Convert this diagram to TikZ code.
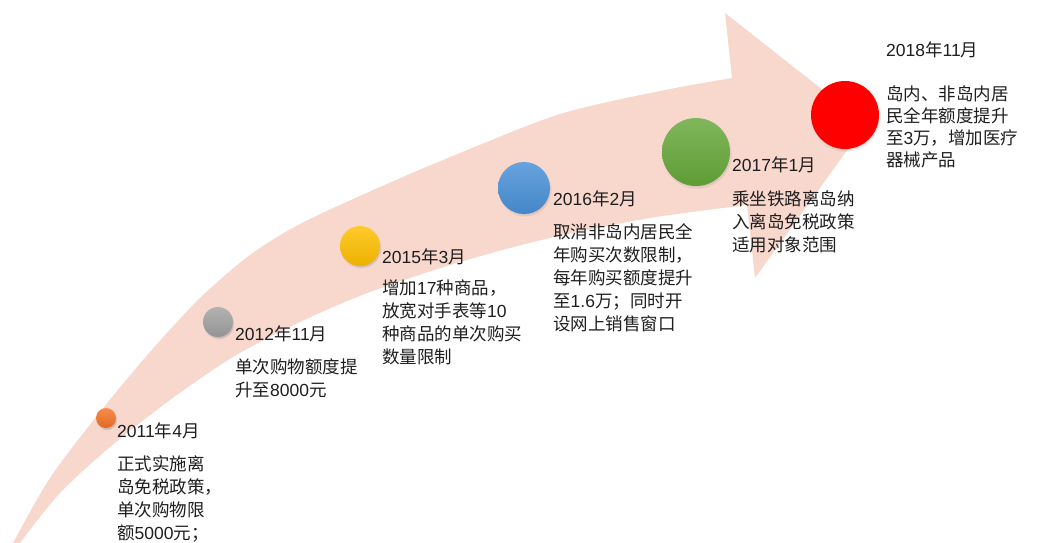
\documentclass[tikz,border=0pt]{standalone}
\usepackage{fontspec}
\setmainfont{Noto Sans CJK SC}
\newfontfamily\lat{Liberation Sans}
\usetikzlibrary{shadows}
\definecolor{arrowpink}{RGB}{248,215,205}
\definecolor{txt}{RGB}{30,30,30}
\tikzset{
  ball/.style={circle, inner sep=0pt, draw=none,
    circular drop shadow={shadow xshift=0.8pt, shadow yshift=-1.8pt, shadow scale=1.04, opacity=0.35}},
  title/.style={anchor=base west, inner sep=0pt, text=txt, font=\fontsize{17.5}{23}\selectfont},
  desc/.style={title, align=left},
}
\begin{document}
\begin{tikzpicture}[x=1pt,y=-1pt]
\useasboundingbox (0,0) rectangle (1037,543);
\clip (0,0) rectangle (1037,543);
% curved arrow
\fill[arrowpink] plot[smooth] coordinates {(6,557) (13,543) (50,478) (100,412) (150,352) (200,298) (250,255) (300,224) (380,187) (460,153) (560,114) (660,91) (732,78)}
  -- (725,13) -- (866,124) -- (755,278)
  -- plot[smooth] coordinates {(747,205) (650,218) (550,238) (460,262) (370,292) (300,322) (233,357) (170,400) (110,447) (60,493) (20,543) (12,557)} -- cycle;
% balls
\node[ball, minimum size=20pt, top color={rgb,255:red,246;green,142;blue,76}, bottom color={rgb,255:red,226;green,104;blue,34}] (b1) at (106,418) {};
\node[ball, minimum size=30pt, top color={rgb,255:red,178;green,178;blue,178}, bottom color={rgb,255:red,148;green,148;blue,148}] (b2) at (218,322) {};
\node[ball, minimum size=40pt, top color={rgb,255:red,255;green,202;blue,44}, bottom color={rgb,255:red,236;green,178;blue,0}] (b3) at (360,246) {};
\node[ball, minimum size=52pt, top color={rgb,255:red,104;green,163;blue,222}, bottom color={rgb,255:red,68;green,134;blue,200}] (b4) at (524,188) {};
\node[ball, minimum size=68pt, top color={rgb,255:red,128;green,183;blue,92}, bottom color={rgb,255:red,94;green,156;blue,52}] (b5) at (696,152) {};
\node[ball, minimum size=68pt, fill={rgb,255:red,255;green,0;blue,0}] (b6) at (845,115) {};
% labels (multi-line nodes: base anchor is the baseline of the last line)
\node[title] (t1) at (117,437) {{\lat 2011}年{\lat 4}月};
\node[desc] (d1) at (117,539) {正式实施离\\岛免税政策，\\单次购物限\\额{\lat 5000}元；};
\node[title] (t2) at (235,340) {{\lat 2012}年{\lat 11}月};
\node[desc] (d2) at (235,396) {单次购物额度提\\升至{\lat 8000}元};
\node[title] (t3) at (382,263) {{\lat 2015}年{\lat 3}月};
\node[desc] (d3) at (382,363) {增加{\lat 17}种商品，\\放宽对手表等{\lat 10}\\种商品的单次购买\\数量限制};
\node[title] (t4) at (553,205) {{\lat 2016}年{\lat 2}月};
\node[desc] (d4) at (553,330) {取消非岛内居民全\\年购买次数限制，\\每年购买额度提升\\至{\lat 1.6}万；同时开\\设网上销售窗口};
\node[title] (t5) at (732,171) {{\lat 2017}年{\lat 1}月};
\node[desc] (d5) at (732,251) {乘坐铁路离岛纳\\入离岛免税政策\\适用对象范围};
\node[title] (t6) at (886,57) {{\lat 2018}年{\lat 11}月};
\node[desc, font=\fontsize{17.5}{22}\selectfont] (d6) at (886,166) {岛内、非岛内居\\民全年额度提升\\至{\lat 3}万，增加医疗\\器械产品};
\end{tikzpicture}
\end{document}
